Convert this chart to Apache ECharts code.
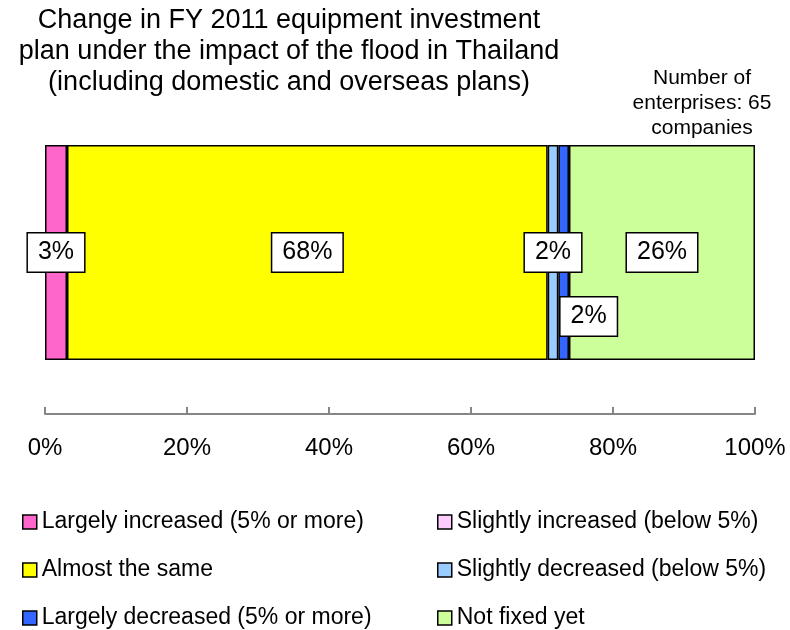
<!DOCTYPE html>
<html>
<head>
<meta charset="utf-8">
<script src="https://cdn.jsdelivr.net/npm/echarts@6/dist/echarts.min.js"></script>
<style>
  html, body { margin: 0; padding: 0; background: #fff; }
  #chart { width: 790px; height: 630px; }
</style>
</head>
<body>
<div id="chart"></div>
<script>
// share of companies (%) by change in the plan, 65 companies
const categories = ['FY 2011'];
const seriesNames = [
  'Largely increased (5% or more)',
  'Slightly increased (below 5%)',
  'Almost the same',
  'Slightly decreased (below 5%)',
  'Largely decreased (5% or more)',
  'Not fixed yet'
];
const seriesValues = [3.1, 0, 67.7, 1.5, 1.5, 26.2];
const seriesColors = ['#ff66cc', '#ffccff', '#ffff00', '#99ccff', '#3366ff', '#ccff99'];
const xTicks = [0, 20, 40, 60, 80, 100];

const font = "'Liberation Sans', Arial, sans-serif";
const myChart = echarts.init(document.getElementById('chart'));

const series = seriesNames.map((name, i) => ({
  name: name,
  type: 'bar',
  stack: 'total',
  barWidth: 215,
  data: [seriesValues[i]],
  itemStyle: {
    color: seriesColors[i],
    borderColor: '#000',
    borderWidth: 1.5
  },
  label: {
    show: seriesValues[i] > 0,
    position: 'inside',
    offset: i === 4 ? [25, 64] : [0, 0],
    formatter: p => Math.round(p.value) + '%',
    color: '#000',
    fontSize: 25,
    lineHeight: 26,
    fontFamily: font,
    backgroundColor: '#fff',
    borderColor: '#000',
    borderWidth: 1.5,
    padding: [6, 10]
  }
}));

const legendBase = {
  orient: 'vertical',
  top: 510,
  padding: 0,
  itemWidth: 14,
  itemHeight: 14,
  itemGap: 24,
  icon: 'rect',
  itemStyle: { borderColor: '#000', borderWidth: 1.5 },
  textStyle: { fontSize: 23, lineHeight: 24, color: '#000', fontFamily: font }
};

const option = {
  animation: false,
  textStyle: { fontFamily: font },
  title: [
    {
      text: 'Change in FY 2011 equipment investment\nplan under the impact of the flood in Thailand\n(including domestic and overseas plans)',
      left: 289,
      top: 5,
      padding: 0,
      textAlign: 'center',
      textStyle: { fontSize: 27, lineHeight: 31, fontWeight: 'normal', color: '#000', fontFamily: font }
    },
    {
      text: 'Number of\nenterprises: 65\ncompanies',
      left: 702,
      top: 66,
      padding: 0,
      textAlign: 'center',
      textStyle: { fontSize: 21, lineHeight: 25, fontWeight: 'normal', color: '#000', fontFamily: font }
    }
  ],
  legend: [
    Object.assign({}, legendBase, { left: 22, data: [seriesNames[0], seriesNames[2], seriesNames[4]] }),
    Object.assign({}, legendBase, { left: 437, data: [seriesNames[1], seriesNames[3], seriesNames[5]] })
  ],
  grid: { left: 45, right: 35, top: 91, bottom: 216, containLabel: false },
  xAxis: {
    type: 'value',
    min: xTicks[0],
    max: xTicks[xTicks.length - 1],
    interval: xTicks[1] - xTicks[0],
    axisLine: { show: true, lineStyle: { color: '#868686', width: 2 } },
    axisTick: { show: true, inside: true, length: 7, lineStyle: { color: '#868686', width: 2 } },
    splitLine: { show: false },
    axisLabel: { formatter: '{value}%', fontSize: 24, color: '#000', margin: 22, fontFamily: font }
  },
  yAxis: {
    type: 'category',
    data: categories,
    show: false
  },
  series: series
};

myChart.setOption(option);
</script>
</body>
</html>
